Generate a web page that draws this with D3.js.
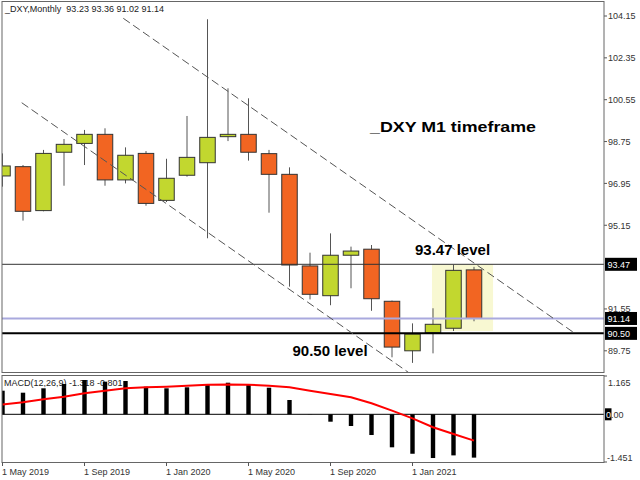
<!DOCTYPE html>
<html>
<head>
<meta charset="utf-8">
<script src="https://cdn.jsdelivr.net/npm/d3@7"></script>
<style>
  body { margin: 0; background: #fff; }
  svg { display: block; }
  text { font-family: "Liberation Sans", Arial, sans-serif; }
</style>
</head>
<body>
<svg id="chart" width="640" height="480"></svg>
<script>
// Monthly _DXY bars, May 2019 – Apr 2021
const months = ["2019-05","2019-06","2019-07","2019-08","2019-09","2019-10","2019-11","2019-12",
                "2020-01","2020-02","2020-03","2020-04","2020-05","2020-06","2020-07","2020-08",
                "2020-09","2020-10","2020-11","2020-12","2021-01","2021-02","2021-03","2021-04"];
const openP  = [97.27, 97.67, 95.78, 98.29, 98.67, 99.06, 97.10, 98.24,
                96.22, 97.30, 97.84, 98.96, 99.06, 98.23, 97.34, 93.40,
                92.12, 93.86, 94.12, 91.88, 89.75, 90.53, 90.72, 93.23];
const highP  = [98.24, 97.74, 98.39, 98.86, 99.25, 99.32, 98.50, 98.34,
                98.01, 99.85, 104.01, 101.04, 100.61, 98.39, 97.64, 93.97,
                94.80, 94.23, 94.30, 91.91, 90.93, 91.58, 93.45, 93.36];
const lowP   = [96.81, 95.35, 95.75, 96.85, 97.74, 96.85, 96.95, 95.99,
                96.15, 97.24, 94.59, 98.77, 97.93, 95.69, 92.51, 91.96,
                91.71, 92.44, 91.47, 89.47, 89.23, 89.64, 90.60, 91.02];
const closeP = [97.70, 95.75, 98.24, 98.63, 99.06, 97.10, 98.16, 96.09,
                97.17, 98.07, 98.93, 99.06, 98.29, 97.34, 93.44, 92.18,
                93.86, 94.04, 91.99, 89.91, 90.47, 90.89, 93.21, 91.14];

// MACD(12,26,9): histogram (main line) and signal
const macdMain   = [0.718, 0.657, 0.791, 0.922, 1.043, 0.992, 1.013, 0.839,
                    0.791, 0.821, 0.891, 0.961, 0.891, 0.809, 0.435, -0.005,
                    -0.225, -0.356, -0.630, -1.004, -1.200, -1.330, -1.250, -1.318];
const macdSignal = [0.300, 0.365, 0.456, 0.535, 0.639, 0.718, 0.791, 0.821,
                    0.840, 0.870, 0.900, 0.910, 0.900, 0.870, 0.820, 0.718,
                    0.617, 0.517, 0.334, 0.110, -0.122, -0.395, -0.600, -0.801];

const priceTicks = [104.15, 102.35, 100.55, 98.75, 96.95, 95.15, 93.35, 91.55, 89.75];
const macdTicks = [1.165, 0.00, -1.451];
const dateLabels = ["1 May 2019", "1 Sep 2019", "1 Jan 2020", "1 May 2020", "1 Sep 2020", "1 Jan 2021"];
const dateLabelIdx = [0, 4, 8, 12, 16, 20];

const resistance = 93.47;
const support = 90.50;
const lastPrice = 91.14;

// channel lines as [bar index, price] pairs
const upperChannel = [[5.893, 104.05], [27.84, 90.55]];
const lowerChannel = [[0.937, 100.42], [19.9, 88.76]];

const GREEN = "#c2d72f", ORANGE = "#f26522";

const svg = d3.select("#chart");
const L = 2, R = 604;
const mainTop = 1.5, mainBot = 372.5;
const macdTop = 375.5, macdBot = 462.5;

const x = d3.scaleLinear().domain([0, 23]).range([2.5, 474]);
const y = d3.scaleLinear().domain([89.75, 104.15]).range([350.8, 16]);
const ym = d3.scaleLinear().domain([-1.451, 1.165]).range([462, 376]);
const step = x(1) - x(0);
const bodyW = step * 0.756;

const defs = svg.append("defs");
defs.append("clipPath").attr("id", "clipMain").append("rect")
  .attr("x", L).attr("y", mainTop).attr("width", R - L).attr("height", mainBot - mainTop);
defs.append("clipPath").attr("id", "clipMacd").append("rect")
  .attr("x", L).attr("y", macdTop).attr("width", R - L).attr("height", macdBot - macdTop);

// ---------- price panel ----------
const gMain = svg.append("g").attr("clip-path", "url(#clipMain)");

// highlighted zone around the last two bars
gMain.append("rect")
  .attr("x", x(20.95)).attr("width", x(23.93) - x(20.95))
  .attr("y", y(resistance)).attr("height", y(90.60) - y(resistance))
  .attr("fill", "#f8f8d2");

// header
svg.append("text").attr("x", 5).attr("y", 11.5)
  .attr("font-size", 9).attr("fill", "#222")
  .attr("xml:space", "preserve")
  .text("_DXY,Monthly  " + [openP[23], highP[23], lowP[23], closeP[23]].map(d => d.toFixed(2)).join(" "));

const bars = months.map((m, i) => ({i, o: openP[i], h: highP[i], l: lowP[i], c: closeP[i]}));

gMain.selectAll("line.wick").data(bars).join("line")
  .attr("class", "wick")
  .attr("x1", d => x(d.i)).attr("x2", d => x(d.i))
  .attr("y1", d => y(d.h)).attr("y2", d => y(d.l))
  .attr("stroke", "#555").attr("stroke-width", 1);

gMain.selectAll("rect.body").data(bars).join("rect")
  .attr("class", "body")
  .attr("x", d => x(d.i) - bodyW / 2).attr("width", bodyW)
  .attr("y", d => y(Math.max(d.o, d.c)))
  .attr("height", d => Math.max(1.5, Math.abs(y(d.o) - y(d.c))))
  .attr("fill", d => d.c >= d.o ? GREEN : ORANGE)
  .attr("stroke", "#333").attr("stroke-width", 1);

// horizontal levels
gMain.append("line").attr("x1", L).attr("x2", R)
  .attr("y1", y(resistance)).attr("y2", y(resistance))
  .attr("stroke", "#333").attr("stroke-width", 1);
gMain.append("line").attr("x1", L).attr("x2", R)
  .attr("y1", y(lastPrice)).attr("y2", y(lastPrice))
  .attr("stroke", "#a9a9de").attr("stroke-width", 2);
gMain.append("line").attr("x1", L).attr("x2", R)
  .attr("y1", y(support)).attr("y2", y(support))
  .attr("stroke", "#000").attr("stroke-width", 2);

// channel
const chan = d3.line().x(d => x(d[0])).y(d => y(d[1]));
[upperChannel, lowerChannel].forEach(pts => {
  gMain.append("path").attr("d", chan(pts))
    .attr("fill", "none").attr("stroke", "#555").attr("stroke-width", 1)
    .attr("stroke-dasharray", "8,4");
});

// annotations
svg.append("text").attr("x", 370).attr("y", 132)
  .attr("font-size", 14.5).attr("font-weight", "bold").attr("fill", "#000")
  .attr("textLength", 166).attr("lengthAdjust", "spacingAndGlyphs")
  .text("_DXY M1 timeframe");
svg.append("text").attr("x", 415).attr("y", 255)
  .attr("font-size", 15).attr("font-weight", "bold").attr("fill", "#000")
  .text(resistance.toFixed(2) + " level");
svg.append("text").attr("x", 292.5).attr("y", 355.5)
  .attr("font-size", 15).attr("font-weight", "bold").attr("fill", "#000")
  .text(support.toFixed(2) + " level");

// price axis
const boxed = [resistance, lastPrice, support];
const shownTicks = priceTicks.filter(t => boxed.every(b => Math.abs(y(t) - y(b)) > 5));
const gAx = svg.append("g");
gAx.selectAll("line").data(shownTicks).join("line")
  .attr("x1", R).attr("x2", R + 3).attr("y1", d => y(d)).attr("y2", d => y(d))
  .attr("stroke", "#555");
gAx.selectAll("text").data(shownTicks).join("text")
  .attr("x", 608).attr("y", d => y(d) + 3.3)
  .attr("font-size", 9).attr("fill", "#333")
  .text(d => d.toFixed(2));
boxed.forEach(v => {
  svg.append("rect").attr("x", 605).attr("y", y(v) - 6.5).attr("width", 32).attr("height", 13)
    .attr("fill", "#000");
  svg.append("text").attr("x", 607.5).attr("y", y(v) + 3.3)
    .attr("font-size", 9).attr("fill", "#fff").text(v.toFixed(2));
});

// ---------- MACD panel ----------
const gM = svg.append("g").attr("clip-path", "url(#clipMacd)");
gM.append("text").attr("x", 4).attr("y", 386)
  .attr("font-size", 9).attr("fill", "#222")
  .text("MACD(12,26,9) " + macdMain[23].toFixed(3) + " " + macdSignal[23].toFixed(3));
gM.append("line").attr("x1", L).attr("x2", R).attr("y1", ym(0)).attr("y2", ym(0))
  .attr("stroke", "#000").attr("stroke-width", 1);
gM.selectAll("rect.hist").data(macdMain.map((v, i) => ({v, i}))).join("rect")
  .attr("class", "hist")
  .attr("x", d => x(d.i) - 2.2).attr("width", 4.4)
  .attr("y", d => Math.min(ym(d.v), ym(0)))
  .attr("height", d => Math.abs(ym(d.v) - ym(0)))
  .attr("fill", "#000");
gM.append("path")
  .attr("d", d3.line().x((d, i) => x(i)).y(d => ym(d))(macdSignal))
  .attr("fill", "none").attr("stroke", "#f00").attr("stroke-width", 2);

// MACD scale labels
svg.append("text").attr("x", 608).attr("y", 385.5).attr("font-size", 9).attr("fill", "#333")
  .text(macdTicks[0].toFixed(3));
svg.append("rect").attr("x", 605).attr("y", ym(0) - 6).attr("width", 6.5).attr("height", 12).attr("fill", "#000");
const zt = svg.append("text").attr("x", 606).attr("y", ym(0) + 3.3).attr("font-size", 9).attr("fill", "#333");
const zs = macdTicks[1].toFixed(2);
zt.append("tspan").attr("fill", "#fff").text(zs.slice(0, 1));
zt.append("tspan").text(zs.slice(1));
svg.append("text").attr("x", 607).attr("y", 460.5).attr("font-size", 9).attr("fill", "#333")
  .text(macdTicks[2].toFixed(3));
[macdTicks[0], macdTicks[2]].forEach(v => {
  svg.append("line").attr("x1", R).attr("x2", R + 3).attr("y1", ym(v)).attr("y2", ym(v)).attr("stroke", "#555");
});

// panel frames
svg.append("rect").attr("x", L).attr("y", mainTop).attr("width", R - L).attr("height", mainBot - mainTop)
  .attr("fill", "none").attr("stroke", "#666");
svg.append("rect").attr("x", L).attr("y", macdTop).attr("width", R - L).attr("height", macdBot - macdTop)
  .attr("fill", "none").attr("stroke", "#666");

// date axis
const gD = svg.append("g");
gD.selectAll("line").data(dateLabelIdx).join("line")
  .attr("x1", d => x(d)).attr("x2", d => x(d)).attr("y1", macdBot).attr("y2", macdBot + 3.5)
  .attr("stroke", "#555");
gD.selectAll("text").data(dateLabels).join("text")
  .attr("x", (d, k) => x(dateLabelIdx[k]) - 0.5).attr("y", 475)
  .attr("font-size", 9).attr("fill", "#333")
  .text(d => d);
</script>
</body>
</html>
